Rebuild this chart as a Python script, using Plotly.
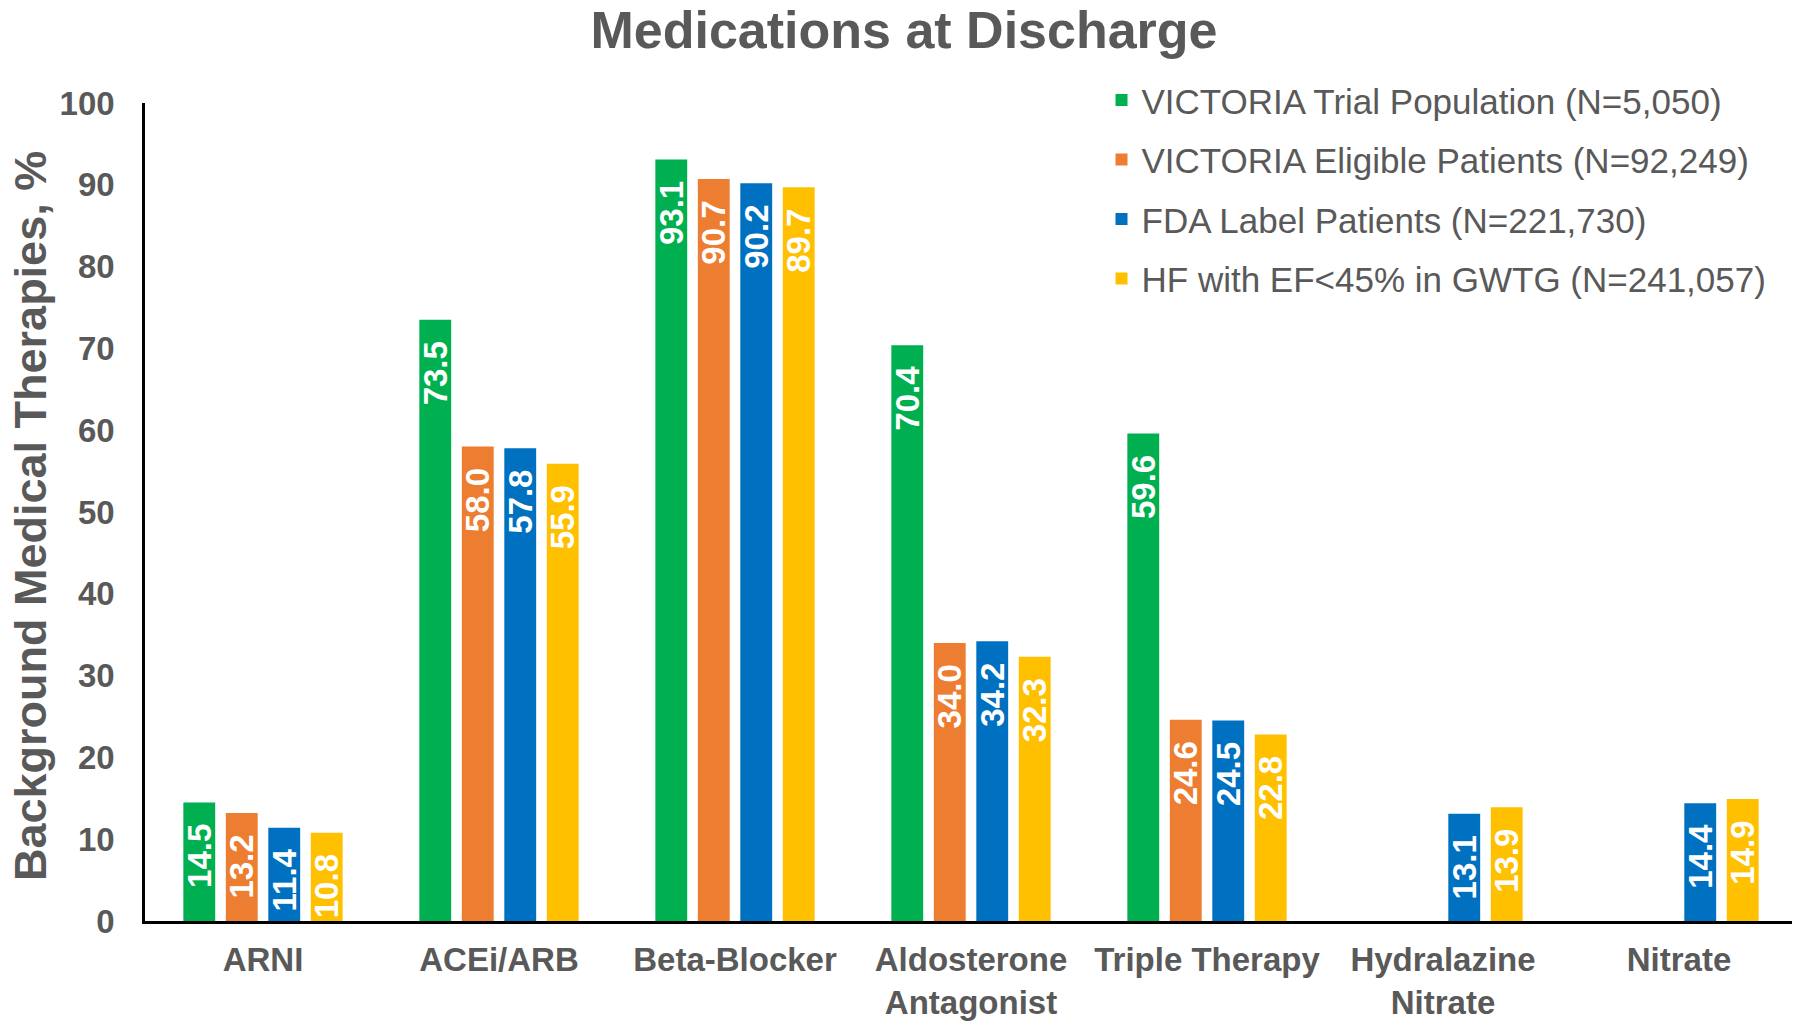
import plotly.graph_objects as go

categories = ["ARNI", "ACEi/ARB", "Beta-Blocker", "Aldosterone<br>Antagonist",
              "Triple Therapy", "Hydralazine<br>Nitrate", "Nitrate"]

series_names = [
    "VICTORIA Trial Population (N=5,050)",
    "VICTORIA Eligible Patients (N=92,249)",
    "FDA Label Patients (N=221,730)",
    "HF with EF<45% in GWTG (N=241,057)",
]

victoria_trial = [14.5, 73.5, 93.1, 70.4, 59.6, None, None]
victoria_eligible = [13.2, 58.0, 90.7, 34.0, 24.6, None, None]
fda_label = [11.4, 57.8, 90.2, 34.2, 24.5, 13.1, 14.4]
gwtg = [10.8, 55.9, 89.7, 32.3, 22.8, 13.9, 14.9]

y_ticks = [0, 10, 20, 30, 40, 50, 60, 70, 80, 90, 100]

colors = ["#00B050", "#ED7D31", "#0070C0", "#FFC000"]
FONT = "Liberation Sans, Arial, sans-serif"
GRAY = "#595959"

W, H = 1792, 1013
ML, MR, MT, MB = 137, 3, 95, 100

fig = go.Figure()
for i, (name, vals) in enumerate(zip(series_names,
                                     [victoria_trial, victoria_eligible, fda_label, gwtg])):
    fig.add_trace(go.Bar(
        x=categories, y=vals, name=name,
        marker=dict(color=colors[i], line=dict(width=0)),
        texttemplate="<b>%{y:.1f}</b>\u00a0\u00a0",
        textposition="inside",
        insidetextanchor="end",
        textangle=-90,
        constraintext="none",
        textfont=dict(family=FONT, size=33, color="white"),
        legendgroup=f"g{i}",
        cliponaxis=False,
    ))

plot_w = W - ML - MR
plot_h = H - MT - MB

fig.update_layout(
    width=W, height=H,
    margin=dict(l=ML, r=MR, t=MT, b=MB, autoexpand=False),
    paper_bgcolor="white", plot_bgcolor="white",
    barmode="group", bargap=0.28, bargroupgap=0.25,
    title=dict(text="<b>Medications at Discharge</b>", x=0.5, xanchor="center",
               y=1 - 22 / H, yanchor="middle", yref="container",
               font=dict(family=FONT, size=52, color=GRAY)),
    legend=dict(x=0.579, y=1.0395, xanchor="left", yanchor="top",
                font=dict(family=FONT, size=35, color=GRAY),
                tracegroupgap=11, bgcolor="rgba(0,0,0,0)",
                itemwidth=30),
    showlegend=True,
    annotations=[dict(
        text="<b>Background Medical Therapies, %</b>",
        textangle=-90, showarrow=False,
        xref="paper", yref="paper",
        x=(22 - ML) / plot_w, y=(H - MB - 508) / plot_h,
        xanchor="center", yanchor="middle",
        font=dict(family=FONT, size=45, color=GRAY),
    )],
)

fig.update_xaxes(
    showline=True, linecolor="black", linewidth=3,
    showgrid=False, ticks="", ticklabelstandoff=7,
    tickfont=dict(family=FONT, size=33, color=GRAY),
    tickmode="array", tickvals=categories,
    ticktext=[f"<b>{c}</b>" for c in categories],
)
fig.update_yaxes(
    range=[0, 100], showline=True, linecolor="black", linewidth=2.5,
    showgrid=False, zeroline=False, ticks="",
    tickmode="array", tickvals=y_ticks,
    ticktext=[f"<b>{t}</b>" for t in y_ticks],
    tickfont=dict(family=FONT, size=33, color=GRAY),
    ticklabelstandoff=21,
)

fig.write_html("out.html")
